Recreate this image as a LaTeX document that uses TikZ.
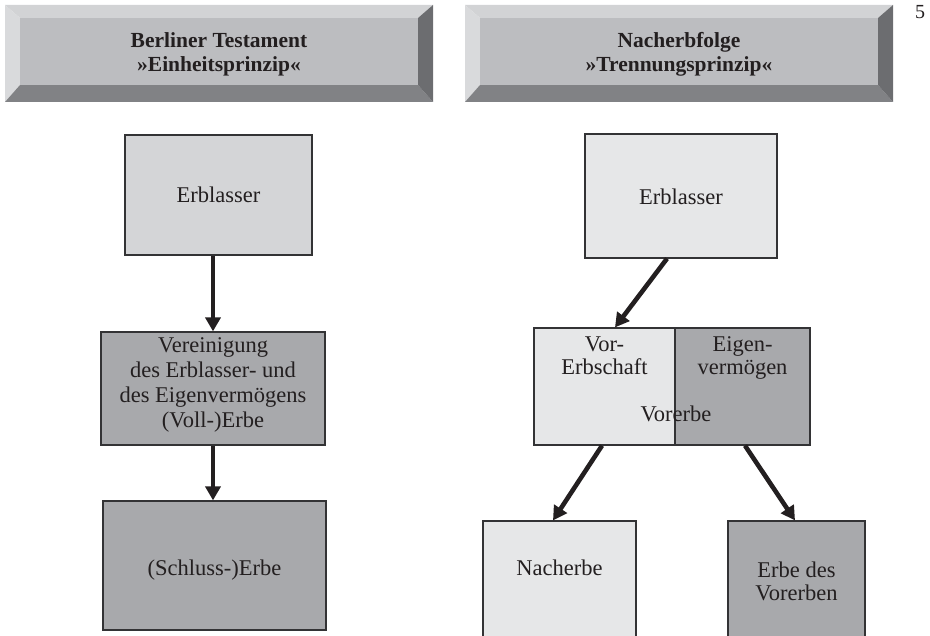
\documentclass[tikz,border=0pt]{standalone}
\usepackage{fontspec}
\setmainfont{Liberation Serif}
\usetikzlibrary{arrows.meta,calc}
\definecolor{bevTop}{HTML}{D2D3D5}
\definecolor{bevLeft}{HTML}{D9DADC}
\definecolor{bevBot}{HTML}{818285}
\definecolor{bevRight}{HTML}{6C6D70}
\definecolor{face}{HTML}{BCBDC0}
\definecolor{boxMid}{HTML}{D4D5D7}
\definecolor{boxLight}{HTML}{E6E7E8}
\definecolor{boxDark}{HTML}{A8A9AC}
\definecolor{edge}{HTML}{333335}
\definecolor{ink}{HTML}{231F20}
\tikzset{
  box/.style={draw=edge, line width=1.2pt, inner sep=0pt},
  txt/.style={anchor=base, inner sep=0pt, text=ink, font=\fontsize{22.5}{24}\selectfont},
  headtxt/.style={align=center, inner sep=0pt, text=ink, font=\fontsize{21.5}{24}\selectfont\bfseries},
  arr/.style={draw=ink, line width=4.6pt, -{Triangle[width=15pt,length=14pt]}}
}
\begin{document}
\begin{tikzpicture}[x=1pt,y=-1pt]
\useasboundingbox (0,0) rectangle (930,636);
\clip (0,0) rectangle (930,636);

% ---------- headers ----------
\foreach \dx in {0,460}{
  \begin{scope}[xshift=\dx pt]
    \fill[bevTop] (5,5) -- (433,5) -- (418,18) -- (20,18) -- cycle;
    \fill[bevLeft] (5,5) -- (20,18) -- (20,85) -- (5,102) -- cycle;
    \fill[bevBot] (5,102) -- (20,85) -- (418,85) -- (433,102) -- cycle;
    \fill[bevRight] (433,5) -- (433,102) -- (418,85) -- (418,18) -- cycle;
    \fill[face] (20,18) rectangle (418,85);
  \end{scope}
}
\node[headtxt] (h1) at (219,54) {Berliner Testament\\»Einheitsprinzip«};
\node[headtxt] (h2) at (679,54) {Nacherbfolge\\»Trennungsprinzip«};
\node[anchor=base, inner sep=0pt, text=ink, font=\fontsize{20}{24}\selectfont] (pg) at (920,19) {5};

% ---------- left column ----------
\node[box, fill=boxMid, minimum width=187pt, minimum height=120pt] (erbL) at (218.5,195) {};
\node[box, fill=boxDark, minimum width=224pt, minimum height=113pt] (verein) at (213,388.5) {};
\node[box, fill=boxDark, minimum width=223pt, minimum height=129pt] (schluss) at (214.5,565.5) {};

\node[txt] (tErbL) at (218.5,203) {Erblasser};
\node[txt] (tV1) at (213,353) {Vereinigung};
\node[txt] (tV2) at (213,378) {des Erblasser- und};
\node[txt] (tV3) at (213,403) {des Eigenvermögens};
\node[txt] (tV4) at (213,428) {(Voll-)Erbe};
\node[txt] (tSch) at (214.5,575) {(Schluss-)Erbe};

\draw[arr] (erbL.south -| verein.north) -- (verein.north);
\draw[arr] (verein.south) -- (verein.south |- schluss.north);

% ---------- right column ----------
\node[box, fill=boxLight, minimum width=192pt, minimum height=124pt] (erbR) at (681,196) {};
\node[box, fill=boxLight, minimum width=141pt, minimum height=117pt] (vor) at (604.5,386.5) {};
\node[box, fill=boxDark, minimum width=135pt, minimum height=117pt] (eigen) at (742.5,386.5) {};
\node[box, fill=boxLight, minimum width=153pt, minimum height=139pt] (nach) at (559.5,590.5) {};
\node[box, fill=boxDark, minimum width=137pt, minimum height=139pt] (erbev) at (796.5,590.5) {};

\node[txt] (tErbR) at (681,205) {Erblasser};
\node[txt] (tVor1) at (604.5,352) {Vor-};
\node[txt] (tVor2) at (604.5,375) {Erbschaft};
\node[txt] (tEig1) at (742.5,352) {Eigen-};
\node[txt] (tEig2) at (742.5,375) {vermögen};
\node[txt] (tVorerbe) at (676,422) {Vorerbe};
\node[txt] (tNach) at (559.5,575) {Nacherbe};
\node[txt] (tEV1) at (796.5,577) {Erbe des};
\node[txt] (tEV2) at (796.5,600) {Vorerben};

\draw[arr] ($(erbR.south)+(-14,0)$) -- ($(vor.north)+(10.5,0)$);
\draw[arr] ($(vor.south)+(-2.5,0)$) -- ($(nach.north)+(-6.5,0)$);
\draw[arr] ($(eigen.south)+(2.5,0)$) -- ($(erbev.north)+(-1.5,0)$);
\end{tikzpicture}
\end{document}
